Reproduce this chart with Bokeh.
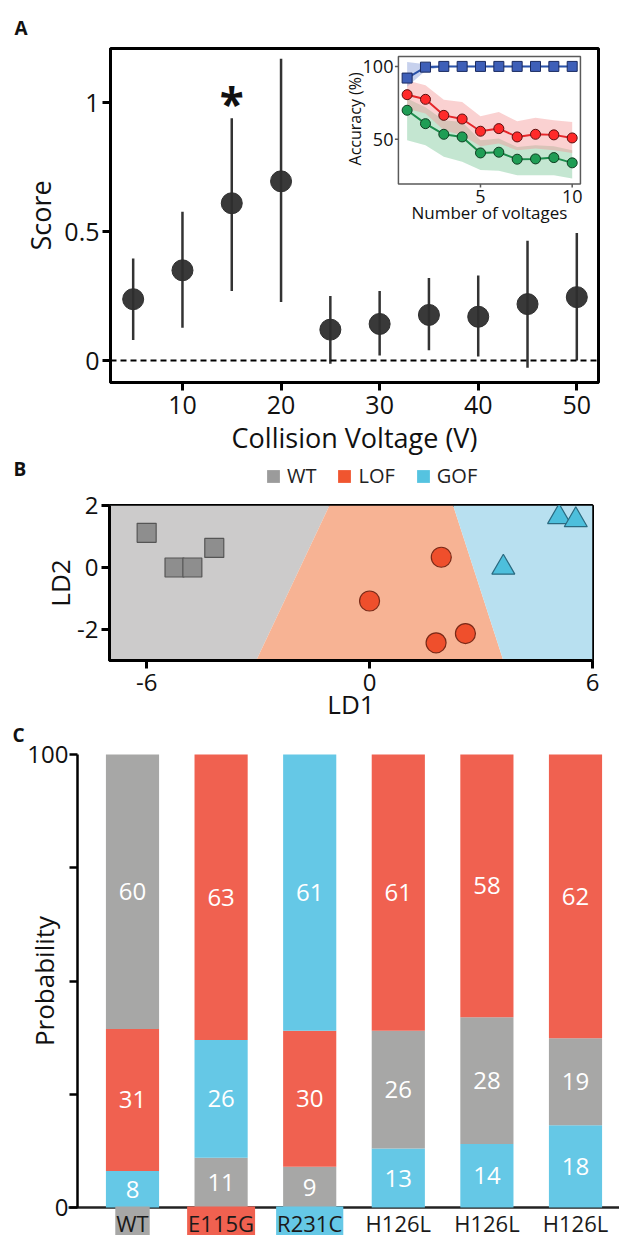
import math
import numpy as np
from bokeh.plotting import figure
from bokeh.models import (ColumnDataSource, Span, Label, Legend, LegendItem,
                          FixedTicker, Range1d)
from bokeh.layouts import column
from bokeh.embed import file_html
from bokeh.resources import INLINE
from bokeh.core.properties import value

FONT = "Open Sans"

# ---------------- Panel A data ----------------
voltages = [5, 10, 15, 20, 25, 30, 35, 40, 45, 50]
score = [0.238, 0.35, 0.61, 0.695, 0.12, 0.142, 0.177, 0.17, 0.219, 0.246]
score_lo = [0.08, 0.127, 0.27, 0.227, -0.012, 0.02, 0.04, 0.016, -0.028, 0.0]
score_hi = [0.396, 0.577, 0.94, 1.17, 0.25, 0.27, 0.32, 0.33, 0.465, 0.495]
significant_voltage = [15]

# inset: accuracy vs number of voltages
n_voltages = [1, 2, 3, 4, 5, 6, 7, 8, 9, 10]
acc_blue = [92, 99.5, 100, 100, 100, 100, 100, 100, 100, 100]
acc_blue_lo = [86, 97, 100, 100, 100, 100, 100, 100, 100, 100]
acc_blue_hi = [103, 101.5, 100.5, 100.5, 100.5, 100.5, 100.5, 100.5, 100.5, 100.5]
acc_red = [80.6, 77.4, 66.4, 63.9, 55.5, 57.3, 51.6, 53.4, 53.0, 50.9]
acc_red_lo = [71, 67.6, 56.2, 52.7, 45.2, 47, 42.5, 43.6, 42.5, 40.6]
acc_red_hi = [90.4, 87, 77.2, 75.6, 65.8, 68.7, 62.3, 64.8, 63, 61.9]
acc_green = [69.9, 60.7, 53.4, 51.6, 40.6, 41.1, 36.3, 36.5, 37.4, 33.8]
acc_green_lo = [49.3, 45.9, 37.9, 34.5, 28.8, 28.3, 25.3, 25.3, 25.3, 23]
acc_green_hi = [77.9, 72, 63, 61.9, 49.3, 50.5, 44.7, 45.9, 45.2, 42.5]
inset_x_ticks = [5, 10]
inset_y_ticks = [50, 100]
inset_x_limits = [0.525, 10.45]
inset_y_limits = [19.2, 106.8]

# ---------------- Panel B data ----------------
wt_ld1 = [-6.0, -5.25, -4.77, -4.18]
wt_ld2 = [1.12, 0.0, 0.0, 0.63]
lof_ld1 = [1.93, 0.0, 2.58, 1.79]
lof_ld2 = [0.33, -1.08, -2.13, -2.43]
gof_ld1 = [5.1, 5.55, 3.6]
gof_ld2 = [1.63, 1.53, 0.0]
# decision boundaries: LD1 position at LD2 = bottom (-3) and top (2)
wt_lof_boundary = [-3.05, -1.08]
lof_gof_boundary = [3.6, 2.25]
ld1_limits = [-7, 6]
ld2_limits = [-3, 2]
legend_names = ["WT", "LOF", "GOF"]
legend_colors = ["#9b9b9b", "#f0552f", "#55c3e0"]

# ---------------- Panel C data ----------------
genotypes = ["WT", "E115G", "R231C", "H126L", "H126L", "H126L"]
genotype_class = ["WT", "LOF", "GOF", None, None, None]
wt_prob = [60, 11, 9, 26, 28, 19]
lof_prob = [31, 63, 30, 61, 58, 62]
gof_prob = [8, 26, 61, 13, 14, 18]

C_GRAY, C_RED, C_BLUE = "#a7a7a6", "#f06150", "#65c8e6"
class_colors = {"WT": C_GRAY, "LOF": C_RED, "GOF": C_BLUE}

W = 619
COMMON = dict(output_backend="svg", toolbar_location=None, frame_align=False)


def style_axes(p, tick_size, label_size, lw=3, tick_out=8, color="black"):
    for ax in p.axis:
        ax.axis_line_width = lw
        ax.axis_line_color = color
        ax.major_tick_line_width = lw
        ax.major_tick_line_color = color
        ax.major_tick_out = tick_out
        ax.major_tick_in = 0
        ax.minor_tick_line_color = None
        ax.major_label_text_font = FONT
        ax.major_label_text_font_size = tick_size
        ax.major_label_text_color = "#111111"
        ax.axis_label_text_font = FONT
        ax.axis_label_text_font_size = label_size
        ax.axis_label_text_font_style = "normal"
        ax.axis_label_text_color = "#111111"


# ================= Panel A =================
A_H = 458
A_L, A_R, A_T, A_B = 110, 21, 48, 75
pA = figure(width=W, height=A_H, x_range=Range1d(2.7, 52.2),
            y_range=Range1d(-0.085, 1.21), min_border_left=A_L,
            min_border_right=A_R, min_border_top=A_T, min_border_bottom=A_B,
            **COMMON)
pA.grid.visible = False
pA.outline_line_color = "black"
pA.outline_line_width = 3
pA.xaxis.ticker = FixedTicker(ticks=[10, 20, 30, 40, 50])
pA.yaxis.ticker = FixedTicker(ticks=[0, 0.5, 1])
pA.yaxis.major_label_overrides = {0: "0", 0.5: "0.5", 1: "1"}
pA.xaxis.axis_label = "Collision Voltage (V)"
pA.yaxis.axis_label = "Score"
style_axes(pA, "25px", "27px")
pA.xaxis.major_label_standoff = 5
pA.yaxis.major_label_standoff = 3
pA.xaxis.axis_label_standoff = 2
pA.yaxis.axis_label_standoff = 2
pA.title.text = "A"
pA.title.align = "left"
pA.title.offset = -96
pA.title.text_font = FONT
pA.title.text_font_size = "19px"
pA.title.text_font_style = "bold"
pA.title.text_color = "#111111"
pA.title.standoff = 16

pA.add_layout(Span(location=0, dimension="width", line_color="black",
                   line_dash="6 4", line_width=2))
pA.segment(x0=voltages, y0=score_lo, x1=voltages, y1=score_hi,
           line_color="#333333", line_width=2.5)
pA.scatter(voltages, score, size=21, fill_color="#2e2e2e",
           line_color="#2e2e2e", fill_alpha=0.95)
sig_hi = [score_hi[voltages.index(v)] for v in significant_voltage]
pA.text(x=significant_voltage, y=sig_hi, text=["*"] * len(sig_hi),
        text_font=value(FONT), text_font_size="44px", text_font_style="bold",
        text_align="center", text_baseline="middle", y_offset=-15,
        text_color="#111111")

# ---- inset drawn in panel A on its own scales (fractions of A's frame) ----
frame_w = W - A_L - A_R
frame_h = A_H - A_T - A_B
ins_fx = (0.590, 0.963)   # horizontal extent of inset box, fraction of frame
ins_fy = (0.594, 0.976)   # vertical extent of inset box, fraction of frame
sx = (inset_x_limits[1] - inset_x_limits[0]) / (ins_fx[1] - ins_fx[0])
sy = (inset_y_limits[1] - inset_y_limits[0]) / (ins_fy[1] - ins_fy[0])
x0 = inset_x_limits[0] - ins_fx[0] * sx
y0 = inset_y_limits[0] - ins_fy[0] * sy
pA.extra_x_ranges = {"ix": Range1d(x0, x0 + sx)}
pA.extra_y_ranges = {"iy": Range1d(y0, y0 + sy)}
IR = dict(x_range_name="ix", y_range_name="iy")
px_x = frame_w / sx   # pixels per inset x unit
px_y = frame_h / sy   # pixels per inset y unit

pA.quad(left=[inset_x_limits[0]], right=[inset_x_limits[1]],
        bottom=[inset_y_limits[0]], top=[inset_y_limits[1]],
        fill_color="white", line_color="#5a5a5a", line_width=1.5, **IR)
pA.varea(x=n_voltages, y1=acc_green_lo, y2=acc_green_hi,
         fill_color="#7cc79a", fill_alpha=0.45, **IR)
pA.varea(x=n_voltages, y1=acc_red_lo, y2=acc_red_hi,
         fill_color="#f49a9a", fill_alpha=0.45, **IR)
pA.varea(x=n_voltages, y1=acc_blue_lo, y2=acc_blue_hi,
         fill_color="#8fa3db", fill_alpha=0.5, **IR)
pA.line(n_voltages, acc_green, line_color="#1c8c4c", line_width=2, **IR)
pA.scatter(n_voltages, acc_green, size=10, fill_color="#1f9d55",
           line_color="#0d3d20", line_width=1, **IR)
pA.line(n_voltages, acc_red, line_color="#e5262a", line_width=2, **IR)
pA.scatter(n_voltages, acc_red, size=10, fill_color="#ff2a2a",
           line_color="#5a1010", line_width=1, **IR)
pA.line(n_voltages, acc_blue, line_color="#2a52a8", line_width=2, **IR)
pA.scatter(n_voltages, acc_blue, size=10, marker="square",
           fill_color="#3e5fb8", line_color="#1a2a60", line_width=1, **IR)
# inset ticks
tl_y = 3.5 / px_y
tl_x = 3.5 / px_x
pA.segment(x0=inset_x_ticks, x1=inset_x_ticks,
           y0=[inset_y_limits[0]] * 2, y1=[inset_y_limits[0] - tl_y] * 2,
           line_color="#5a5a5a", line_width=1.5, **IR)
pA.segment(x0=[inset_x_limits[0]] * 2, x1=[inset_x_limits[0] - tl_x] * 2,
           y0=inset_y_ticks, y1=inset_y_ticks,
           line_color="#5a5a5a", line_width=1.5, **IR)
pA.text(x=inset_x_ticks, y=[inset_y_limits[0]] * 2,
        text=[str(t) for t in inset_x_ticks], text_font=value(FONT),
        text_font_size="18px", text_align="center", text_baseline="middle",
        y_offset=12, text_color="#111111", **IR)
pA.text(x=[inset_x_limits[0]] * 2, y=inset_y_ticks,
        text=[str(t) for t in inset_y_ticks], text_font=value(FONT),
        text_font_size="18px", text_align="right", text_baseline="middle",
        x_offset=-5, text_color="#111111", **IR)
pA.text(x=[sum(inset_x_limits) / 2], y=[inset_y_limits[0]],
        text=["Number of voltages"], text_font=value(FONT),
        text_font_size="17px", text_align="center", text_baseline="middle",
        y_offset=28, text_color="#111111", **IR)
pA.text(x=[inset_x_limits[0]], y=[sum(inset_y_limits) / 2 + 1],
        text=["Accuracy (%)"], text_font=value(FONT), angle=math.pi / 2,
        text_font_size="16px", text_align="center", text_baseline="middle",
        x_offset=-43, text_color="#111111", **IR)

# ================= Panel B header strip (letter + legend) =================
S_H = 31
pS = figure(width=W, height=S_H, x_range=Range1d(0, W), y_range=Range1d(0, S_H),
            min_border_left=0, min_border_right=0, min_border_top=0,
            min_border_bottom=0, **COMMON)
pS.axis.visible = False
pS.grid.visible = False
pS.outline_line_color = None
pS.add_layout(Label(x=13, y=S_H - 10, text="B", text_font=FONT,
                    text_font_size="19px", text_font_style="bold",
                    text_baseline="middle", text_color="#111111"))
leg_items = []
for name, col in zip(legend_names, legend_colors):
    r = pS.quad(left=[-50], right=[-40], top=[-40], bottom=[-50],
                fill_color=col, line_color=None)
    leg_items.append(LegendItem(label=name, renderers=[r]))
legend = Legend(items=leg_items, orientation="horizontal", location=(265, 0),
                glyph_width=16, glyph_height=16, label_standoff=6, spacing=20,
                padding=0, margin=0, border_line_color=None,
                background_fill_alpha=0, label_text_font=FONT,
                label_text_font_size="20px", label_text_color="#222222")
pS.add_layout(legend)

# ================= Panel B =================
pB = figure(width=W, height=235, x_range=Range1d(*ld1_limits),
            y_range=Range1d(*ld2_limits), min_border_left=109,
            min_border_right=27, min_border_top=16, min_border_bottom=64,
            **COMMON)
pB.grid.visible = False
pB.outline_line_color = "black"
pB.outline_line_width = 3
pB.xaxis.ticker = FixedTicker(ticks=[-6, 0, 6])
pB.yaxis.ticker = FixedTicker(ticks=[-2, 0, 2])
pB.xaxis.major_label_overrides = {-6: "-6", 0: "0", 6: "6"}
pB.yaxis.major_label_overrides = {-2: "-2", 0: "0", 2: "2"}
pB.xaxis.axis_label = "LD1"
pB.yaxis.axis_label = "LD2"
style_axes(pB, "24px", "26px")
pB.xaxis.major_label_standoff = 5
pB.yaxis.major_label_standoff = 3
pB.xaxis.axis_label_standoff = -8
pB.yaxis.axis_label_standoff = -4

lo, hi = ld2_limits
xl, xr = ld1_limits
region_xs = [
    [xl, wt_lof_boundary[0], wt_lof_boundary[1], xl],
    [wt_lof_boundary[0], lof_gof_boundary[0], lof_gof_boundary[1], wt_lof_boundary[1]],
    [lof_gof_boundary[0], xr, xr, lof_gof_boundary[1]],
]
region_ys = [[lo, lo, hi, hi]] * 3
pB.patches(xs=region_xs, ys=region_ys,
           fill_color=["#cccbcb", "#f7b394", "#b8e0f0"], line_color=None)
pB.scatter(wt_ld1, wt_ld2, marker="square", size=19, fill_color="#8e8e8e",
           line_color="#555555", line_width=1.2)
pB.scatter(lof_ld1, lof_ld2, marker="circle", size=20, fill_color="#ef4f2c",
           line_color="#7a2a18", line_width=1.2)
pB.scatter(gof_ld1, gof_ld2, marker="triangle", size=23, fill_color="#4dbfdc",
           line_color="#2a6a80", line_width=1.2)

# ================= Panel C =================
# layout constants (pixels inside panel C's canvas)
C_H = 511
C_PPX = 88.6          # pixels per bar slot
C_PPY = 4.53          # pixels per percent
C_BAR0 = 132          # x pixel of the first bar centre
C_AXIS = 77           # x pixel of the probability axis
C_TOP100 = 30         # y pixel (from canvas top) of 100 %
C_BASE = C_TOP100 + 100 * C_PPY   # y pixel of 0 %


def cx(px):
    return (px - C_BAR0) / C_PPX


def cy(py):
    return (C_BASE - py) / C_PPY


pC = figure(width=W, height=C_H, x_range=Range1d(cx(0), cx(W)),
            y_range=Range1d(cy(C_H), cy(0)), min_border_left=0,
            min_border_right=0, min_border_top=0, min_border_bottom=0,
            **COMMON)
pC.grid.visible = False
pC.outline_line_color = None
pC.xaxis.visible = False
pC.yaxis.ticker = FixedTicker(ticks=[0, 25, 50, 75, 100])
pC.yaxis.major_label_overrides = {0: "0", 25: "", 50: "", 75: "", 100: "100"}
pC.yaxis.bounds = (0, 100)
pC.yaxis.fixed_location = cx(C_AXIS)
pC.yaxis.axis_label = "Probability"
style_axes(pC, "24px", "26px", lw=2.5)
pC.yaxis.major_label_standoff = 1
pC.yaxis.axis_label_standoff = -38
pC.segment(x0=[cx(68)], x1=[cx(W)], y0=[0], y1=[0], line_color="#222222",
           line_width=2.5)
pC.add_layout(Label(x=cx(12), y=cy(10), text="C", text_font=FONT,
                    text_font_size="19px", text_font_style="bold",
                    text_baseline="middle", text_color="#111111"))

prob = {"WT": wt_prob, "LOF": lof_prob, "GOF": gof_prob}
seg = dict(x=[], bottom=[], top=[], color=[], mid=[], label=[])
for i in range(len(genotypes)):
    vals = sorted([(prob[c][i], c) for c in ("WT", "LOF", "GOF")])
    total = float(sum(v for v, _ in vals))
    b = 0.0
    for v, c in vals:
        t = b + v * 100.0 / total
        seg["x"].append(i)
        seg["bottom"].append(b)
        seg["top"].append(t)
        seg["color"].append(class_colors[c])
        seg["mid"].append((b + t) / 2)
        seg["label"].append(str(v))
        b = t
src = ColumnDataSource(seg)
pC.vbar(x="x", width=0.6, bottom="bottom", top="top", fill_color="color",
        line_color=None, source=src)
pC.text(x="x", y="mid", text="label", source=src, text_color="white",
        text_font=value(FONT), text_font_size="24px", text_align="center",
        text_baseline="middle")

for i, (g, gc) in enumerate(zip(genotypes, genotype_class)):
    lab = Label(x=i, y=cy(C_BASE + 15), text=g, text_align="center",
                text_baseline="middle", text_font=FONT,
                text_font_size="22px", text_color="#1a1a1a", padding=1)
    if gc is not None:
        lab.background_fill_color = class_colors[gc]
    pC.add_layout(lab)

layout = column(pA, pS, pB, pC)
open("out.html", "w").write(file_html(layout, INLINE))
